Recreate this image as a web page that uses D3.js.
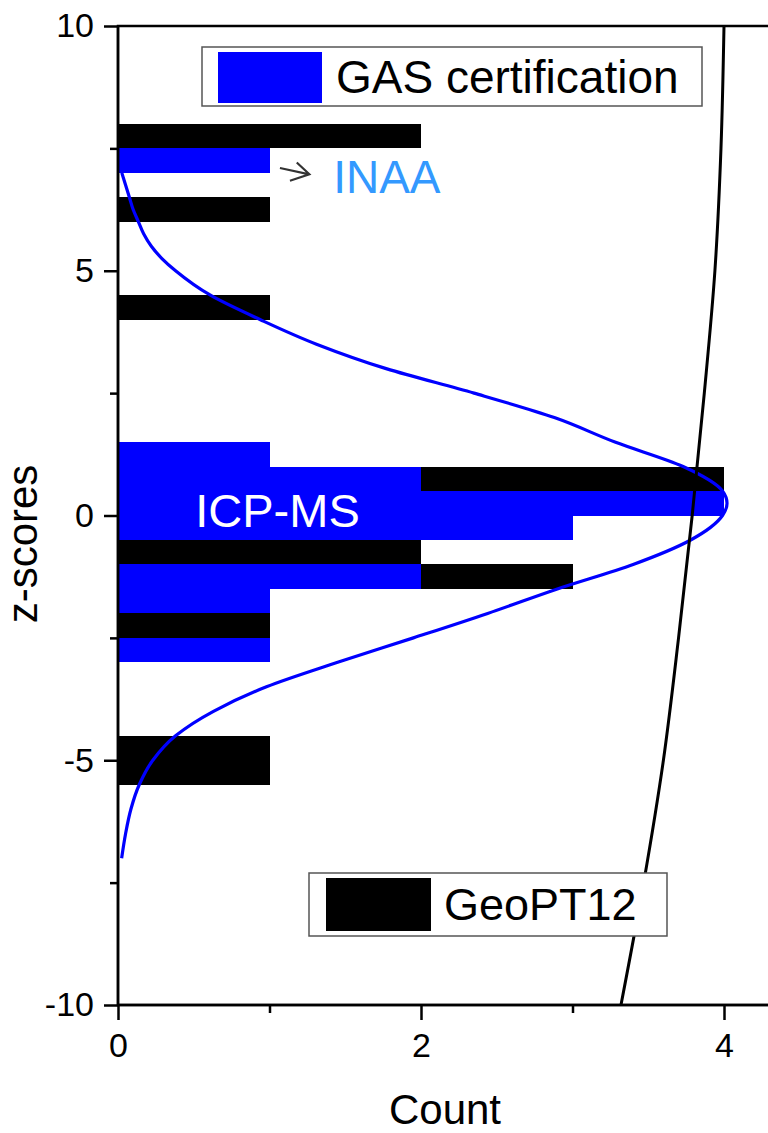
<!DOCTYPE html>
<html>
<head>
<meta charset="utf-8">
<script src="https://cdn.jsdelivr.net/npm/d3@7/dist/d3.min.js"></script>
<style>
  html, body { margin: 0; padding: 0; background: #fff; }
  svg { display: block; }
  text { font-family: "Liberation Sans", Arial, sans-serif; }
</style>
</head>
<body>
<svg id="chart" width="768" height="1133"></svg>
<script>
// ---- data ----
const binStarts = [-5.5,-5,-4.5,-4,-3.5,-3,-2.5,-2,-1.5,-1,-0.5,0,0.5,1,1.5,2,2.5,3,3.5,4,4.5,5,5.5,6,6.5,7,7.5];
const binWidth = 0.5;
const geoCounts = [1,1,0,0,0,0,1,0,3,2,0,0,4,0,0,0,0,0,0,1,0,0,0,1,0,0,2];
const gasCounts = [0,0,0,0,0,1,0,1,2,0,3,4,2,1,0,0,0,0,0,0,0,0,0,0,0,1,0];

// fitted curves (z, count)
const gasCurveZ = [7.0,6.75,6.5,6.25,6.0,5.75,5.5,5.25,5.0,4.5,4.0,3.5,3.0,2.5,2.0,1.5,1.0,0.5,0.25,0.0,-0.5,-1.0,-1.5,-2.0,-2.5,-3.0,-3.5,-4.0,-4.5,-5.0,-5.5,-6.0,-6.5,-7.0];
const gasCurveC = [0.025,0.05,0.075,0.10,0.135,0.17,0.22,0.29,0.38,0.61,0.94,1.31,1.77,2.35,2.88,3.28,3.73,3.99,4.02,3.99,3.78,3.40,2.90,2.44,1.95,1.45,0.98,0.63,0.38,0.23,0.14,0.085,0.05,0.024];
const geoCurveZ = [10,7.5,5,2.5,0,-2.5,-5,-7.5,-10];
const geoCurveC = [4.00,3.98,3.94,3.87,3.79,3.70,3.60,3.47,3.32];

const yMajor = [-10,-5,0,5,10];
const yMinor = [-7.5,-2.5,2.5,7.5];
const xMajor = [0,2,4];
const xMinor = [1,3];

// ---- layout ----
const svg = d3.select("#chart");
const pLeft = 118, pTop = 26, pBottom = 1005;
const x = d3.scaleLinear().domain([0,4]).range([pLeft, 724]);
const y = d3.scaleLinear().domain([-10,10]).range([pBottom, pTop]);
const xMaxShown = 4.6;

svg.append("defs").append("clipPath").attr("id","plotclip")
  .append("rect").attr("x", pLeft).attr("y", pTop)
  .attr("width", x(xMaxShown)-pLeft).attr("height", pBottom-pTop);

const plot = svg.append("g").attr("clip-path","url(#plotclip)");

// bars
const geoData = binStarts.map((z,i)=>({z, c:geoCounts[i]})).filter(d=>d.c>0);
const gasData = binStarts.map((z,i)=>({z, c:gasCounts[i]})).filter(d=>d.c>0);

plot.selectAll("rect.geo").data(geoData).join("rect")
  .attr("class","geo")
  .attr("x", x(0))
  .attr("y", d=>y(d.z+binWidth))
  .attr("width", d=>x(d.c)-x(0))
  .attr("height", d=>y(d.z)-y(d.z+binWidth))
  .attr("fill","#000").attr("shape-rendering","crispEdges");

plot.selectAll("rect.gas").data(gasData).join("rect")
  .attr("class","gas")
  .attr("x", x(0))
  .attr("y", d=>y(d.z+binWidth))
  .attr("width", d=>x(d.c)-x(0))
  .attr("height", d=>y(d.z)-y(d.z+binWidth))
  .attr("fill","#0000ff").attr("shape-rendering","crispEdges");

// curves
const line = d3.line().x(d=>x(d[1])).y(d=>y(d[0])).curve(d3.curveMonotoneY);
plot.append("path")
  .datum(gasCurveZ.map((z,i)=>[z, gasCurveC[i]]))
  .attr("d", line).attr("fill","none").attr("stroke","#0000ff").attr("stroke-width",3.2);
plot.append("path")
  .datum(geoCurveZ.map((z,i)=>[z, geoCurveC[i]]))
  .attr("d", line).attr("fill","none").attr("stroke","#000").attr("stroke-width",3);

// frame (top line + right off-screen)
svg.append("rect")
  .attr("x", pLeft).attr("y", pTop)
  .attr("width", x(xMaxShown)-pLeft).attr("height", pBottom-pTop)
  .attr("fill","none").attr("stroke","#000").attr("stroke-width",2.5);

// axes
const fontTick = 34;
const fmt = d => String(d);
const yAxis = svg.append("g").attr("transform",`translate(${pLeft},0)`)
  .call(d3.axisLeft(y).tickValues(yMajor).tickSize(14).tickPadding(10).tickFormat(fmt));
const yAxisMinor = svg.append("g").attr("transform",`translate(${pLeft},0)`)
  .call(d3.axisLeft(y).tickValues(yMinor).tickSize(8).tickFormat(""));
const xAxis = svg.append("g").attr("transform",`translate(0,${pBottom})`)
  .call(d3.axisBottom(x).tickValues(xMajor).tickSize(15).tickPadding(13).tickFormat(fmt));
const xAxisMinor = svg.append("g").attr("transform",`translate(0,${pBottom})`)
  .call(d3.axisBottom(x).tickValues(xMinor).tickSize(8).tickFormat(""));

[yAxis,yAxisMinor,xAxis,xAxisMinor].forEach(g=>{
  g.select(".domain").remove();
  g.selectAll(".tick line").attr("stroke","#000").attr("stroke-width",2.5);
  g.selectAll(".tick text").attr("fill","#000").style("font-size", fontTick+"px")
    .style("font-family",'"Liberation Sans", Arial, sans-serif');
});
svg.append("line").attr("x1",pLeft).attr("x2",pLeft).attr("y1",pTop).attr("y2",pBottom)
  .attr("stroke","#000").attr("stroke-width",2.5);
svg.append("line").attr("x1",pLeft).attr("x2",x(xMaxShown)).attr("y1",pBottom).attr("y2",pBottom)
  .attr("stroke","#000").attr("stroke-width",2.5);

// axis titles
svg.append("text").attr("x",445).attr("y",1124).attr("text-anchor","middle")
  .style("font-size","42px").attr("fill","#000").text("Count");
svg.append("text").attr("transform","translate(37,544) rotate(-90)").attr("text-anchor","middle")
  .style("font-size","42px").attr("fill","#000").text("z-scores");

// legends
const leg1 = svg.append("g");
leg1.append("rect").attr("x",202).attr("y",47).attr("width",500).attr("height",59)
  .attr("fill","#fff").attr("stroke","#555").attr("stroke-width",1.5);
leg1.append("rect").attr("x",218).attr("y",52).attr("width",104).attr("height",51).attr("fill","#0000ff");
leg1.append("text").attr("x",336).attr("y",93).style("font-size","46px").attr("fill","#000").text("GAS certification");

const leg2 = svg.append("g");
leg2.append("rect").attr("x",309).attr("y",873).attr("width",358).attr("height",63)
  .attr("fill","#fff").attr("stroke","#555").attr("stroke-width",1.5);
leg2.append("rect").attr("x",326).attr("y",878).attr("width",105).attr("height",53).attr("fill","#000");
leg2.append("text").attr("x",444).attr("y",920).style("font-size","45px").attr("fill","#000").text("GeoPT12");

// annotations (data coordinates)
svg.append("text").attr("x",x(1.42)).attr("y",y(6.59)).style("font-size","46px")
  .attr("fill","#3399ff").text("INAA");
svg.append("text").attr("x",x(0.51)).attr("y",y(-0.235)).style("font-size","47px")
  .attr("fill","#fff").text("ICP-MS");
const arrowPts = {s:[1.069,7.10], t:[1.263,6.97], w1:[1.18,7.21], w2:[1.135,6.84]};
const P = p => `${x(p[0])},${y(p[1])}`;
svg.append("path")
  .attr("d", `M${P(arrowPts.s)}L${P(arrowPts.t)}M${P(arrowPts.w1)}L${P(arrowPts.t)}L${P(arrowPts.w2)}`)
  .attr("fill","none").attr("stroke","#333").attr("stroke-width",2.2);
</script>
</body>
</html>
